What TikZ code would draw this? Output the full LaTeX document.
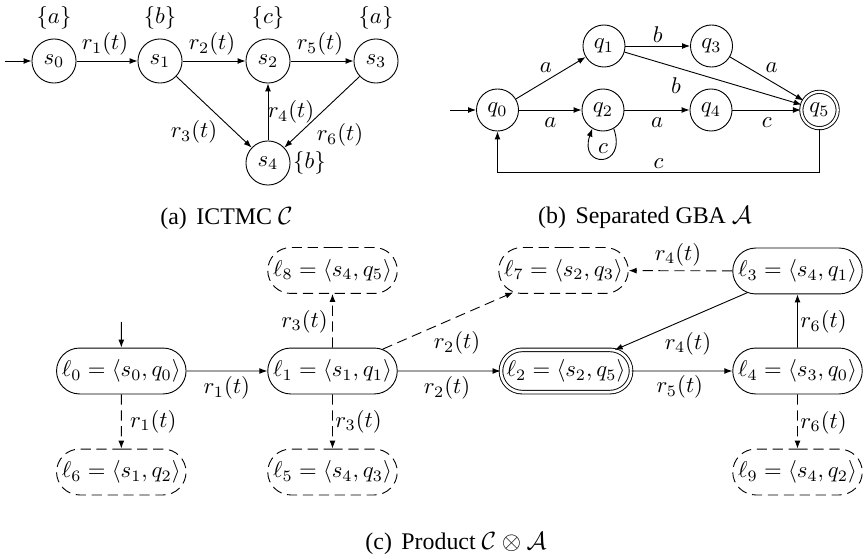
\documentclass[tikz,border=0pt]{standalone}
\usepackage[no-math]{fontspec}
\setmainfont{Liberation Serif}
\usetikzlibrary{arrows.meta,shapes.misc}
\begin{document}
\begin{tikzpicture}[x=0.44pt,y=-0.44pt,
  st/.style={circle,draw,thin,minimum size=19.4pt,inner sep=0pt},
  qs/.style={circle,draw,thin,minimum size=18.5pt,inner sep=0pt},
  acc/.style={qs,double,double distance=1pt,minimum size=16pt},
  ls/.style={rounded rectangle,draw,thin,minimum width=55.4pt,minimum height=20.2pt,inner xsep=1pt,inner ysep=0pt},
  lsd/.style={ls,dash pattern=on 4.5pt off 2.5pt},
  lsa/.style={ls,double,double distance=1.2pt,minimum width=53.8pt,minimum height=18.6pt},
  arr/.style={thin,-{Latex[length=3.5pt,width=2.6pt]}},
  darr/.style={arr,dash pattern=on 4.5pt off 2.5pt},
  lab/.style={inner sep=1pt},
  lo/.style 2 args={xshift=#1*0.44pt,yshift=-#2*0.44pt},
  captxt/.style={font=\fontsize{10.5}{12.5}\selectfont}
]
\useasboundingbox (0,0) rectangle (865,559);

% ---------- (a) ICTMC ----------
\coordinate (s0in) at (5,61);
\node[st,label={[lab,label distance=3pt]above:$\{a\}$}] (s0) at (54,61) {$s_0$};
\node[st,label={[lab,label distance=3pt]above:$\{b\}$}] (s1) at (160,61) {$s_1$};
\node[st,label={[lab,label distance=3pt]above:$\{c\}$}] (s2) at (268,61) {$s_2$};
\node[st,label={[lab,label distance=3pt]above:$\{a\}$}] (s3) at (376,61) {$s_3$};
\node[st,label={[lab,label distance=0pt]right:$\{b\}$}] (s4) at (268,163) {$s_4$};
\draw[arr] (s0in) -- (s0);
\draw[arr] (s0) -- node[lab,lo={-2}{-17}] {$r_1(t)$} (s1);
\draw[arr] (s1) -- node[lab,lo={-2}{-17}] {$r_2(t)$} (s2);
\draw[arr] (s2) -- node[lab,lo={-2}{-17}] {$r_5(t)$} (s3);
\draw[arr] (s1) -- node[lab,lo={-20}{20}] {$r_3(t)$} (s4);
\draw[arr] (s4) -- node[lab,lo={23}{0}] {$r_4(t)$} (s2);
\draw[arr] (s3) -- node[lab,lo={18}{23}] {$r_6(t)$} (s4);
\node[captxt] (capa) at (226.5,219) {(a)\hspace{0.4em}ICTMC $\mathcal{C}$};

% ---------- (b) GBA ----------
\coordinate (q0in) at (450,110);
\node[qs] (q0) at (497.5,110) {$q_0$};
\node[qs] (q1) at (604,46) {$q_1$};
\node[qs] (q2) at (603,110) {$q_2$};
\node[qs] (q3) at (711.5,46) {$q_3$};
\node[qs] (q4) at (711,110) {$q_4$};
\node[acc] (q5) at (819.5,110) {$q_5$};
\coordinate (cb) at (497.5,172);
\draw[arr] (q0in) -- (q0);
\draw[arr] (q0) -- node[lab,lo={-5}{-10}] {$a$} (q1);
\draw[arr] (q0) -- node[lab,lo={0}{13}] {$a$} (q2);
\draw[arr] (q1) -- node[lab,lo={0}{-11}] {$b$} (q3);
\draw[arr] (q1) -- node[lab,pos=0.29,lo={0}{18}] {$b$} (q5);
\draw[arr] (q3) -- node[lab,lo={5}{-11}] {$a$} (q5);
\draw[arr] (q2) -- node[lab,lo={0}{13}] {$a$} (q4);
\draw[arr] (q4) -- node[lab,lo={0}{13}] {$c$} (q5);
\draw[arr] (q2.-60) .. controls +(14,40) and +(-14,40) .. node[lab,lo={0}{-10}] {$c$} (q2.-120);
\draw[arr] (q5) |- (cb) -- (q0);
\path (cb) -- node[lab,lo={0}{-8}] {$c$} (q5 |- cb);
\node[captxt] (capb) at (645,218) {(b)\hspace{0.4em}Separated GBA $\mathcal{A}$};

% ---------- (c) Product ----------
\coordinate (l0in) at (121.3,322);
\node[ls] (l0) at (121.3,371) {$\ell_0 = \langle s_0, q_0\rangle$};
\node[ls] (l1) at (332.5,371) {$\ell_1 = \langle s_1, q_1\rangle$};
\node[lsd] (l8) at (332.5,270.5) {$\ell_8 = \langle s_4, q_5\rangle$};
\node[lsd] (l6) at (121.3,472) {$\ell_6 = \langle s_1, q_2\rangle$};
\node[lsd] (l5) at (332.5,472) {$\ell_5 = \langle s_4, q_3\rangle$};
\node[lsd] (l7) at (563.5,270.5) {$\ell_7 = \langle s_2, q_3\rangle$};
\node[ls] (l3) at (797.5,271) {$\ell_3 = \langle s_4, q_1\rangle$};
\node[lsa] (l2) at (566,371) {$\ell_2 = \langle s_2, q_5\rangle$};
\node[ls] (l4) at (797.5,371) {$\ell_4 = \langle s_3, q_0\rangle$};
\node[lsd] (l9) at (797.5,472) {$\ell_9 = \langle s_4, q_2\rangle$};
\draw[arr] (l0in) -- (l0);
\draw[arr] (l0) -- node[lab,lo={0}{17}] {$r_1(t)$} (l1);
\draw[darr] (l0) -- node[lab,lo={32}{0}] {$r_1(t)$} (l6);
\draw[darr] (l1) -- node[lab,lo={-28}{1}] {$r_3(t)$} (l8);
\draw[darr] (l1) -- node[lab,lo={26}{0}] {$r_3(t)$} (l5);
\draw[arr] (l1) -- node[lab,lo={-2}{17}] {$r_2(t)$} (l2);
\draw[darr] (l1) -- node[lab,lo={9}{22.5}] {$r_2(t)$} (l7);
\draw[darr] (l3) -- node[lab,lo={-2.5}{-16}] {$r_4(t)$} (l7);
\draw[arr] (l3) -- node[lab,lo={7}{22}] {$r_4(t)$} (l2);
\draw[arr] (l2) -- node[lab,lo={-2}{16}] {$r_5(t)$} (l4);
\draw[arr] (l4) -- node[lab,lo={26}{1}] {$r_6(t)$} (l3);
\draw[darr] (l4) -- node[lab,lo={26}{1}] {$r_6(t)$} (l9);
\node[captxt] (capc) at (456,544) {(c)\hspace{0.4em}Product $\mathcal{C}\otimes\mathcal{A}$};
\end{tikzpicture}
\end{document}
